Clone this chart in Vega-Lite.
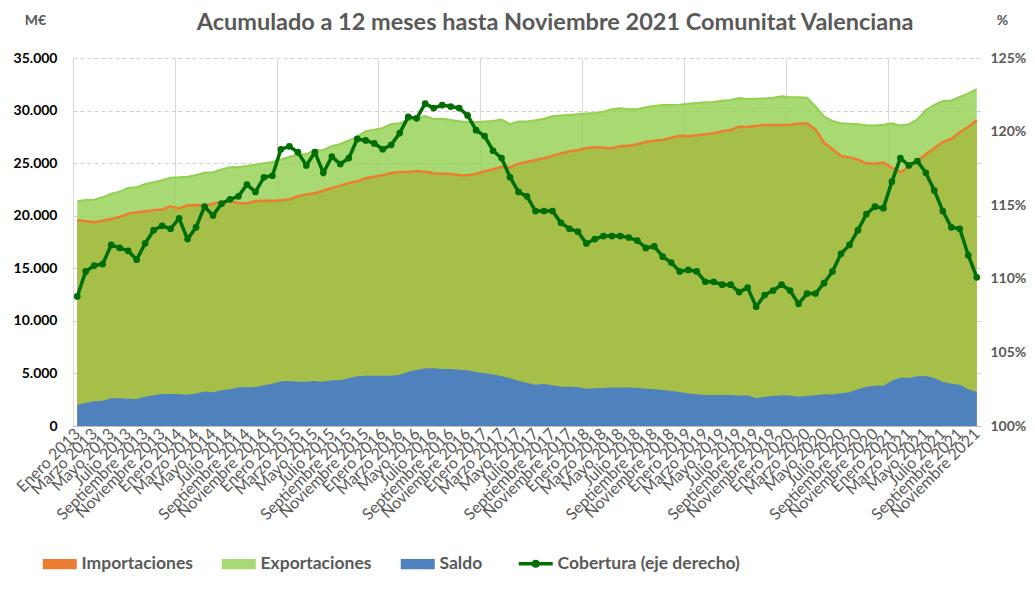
{
  "$schema": "https://vega.github.io/schema/vega-lite/v6.json",
  "width": 908,
  "height": 368,
  "autosize": {"type": "none"},
  "padding": {"left": 73, "top": 58, "right": 54, "bottom": 169},
  "background": "white",
  "config": {"font": "Lato", "view": {"stroke": null}},
  "title": {"text": "Acumulado a 12 meses hasta Noviembre 2021 Comunitat Valenciana", "fontSize": 23.5, "fontWeight": "bold", "color": "#595959", "anchor": "middle", "dx": 28, "offset": -21},
  "data": {"values": [
    {"i":0,"mes":"Enero 2013","exp":21370,"imp":19560,"saldo":2030,"cob":108.8},
    {"i":1,"mes":"Febrero 2013","exp":21500,"imp":19470,"saldo":2190,"cob":110.5},
    {"i":2,"mes":"Marzo 2013","exp":21530,"imp":19370,"saldo":2350,"cob":110.9},
    {"i":3,"mes":"Abril 2013","exp":21750,"imp":19530,"saldo":2410,"cob":111.0},
    {"i":4,"mes":"Mayo 2013","exp":22100,"imp":19690,"saldo":2630,"cob":112.3},
    {"i":5,"mes":"Junio 2013","exp":22290,"imp":19880,"saldo":2630,"cob":112.1},
    {"i":6,"mes":"Julio 2013","exp":22640,"imp":20200,"saldo":2600,"cob":111.9},
    {"i":7,"mes":"Agosto 2013","exp":22700,"imp":20320,"saldo":2570,"cob":111.3},
    {"i":8,"mes":"Septiembre 2013","exp":23020,"imp":20420,"saldo":2790,"cob":112.4},
    {"i":9,"mes":"Octubre 2013","exp":23180,"imp":20510,"saldo":2920,"cob":113.3},
    {"i":10,"mes":"Noviembre 2013","exp":23370,"imp":20580,"saldo":3040,"cob":113.6},
    {"i":11,"mes":"Diciembre 2013","exp":23620,"imp":20890,"saldo":3040,"cob":113.4},
    {"i":12,"mes":"Enero 2014","exp":23650,"imp":20700,"saldo":3040,"cob":114.1},
    {"i":13,"mes":"Febrero 2014","exp":23710,"imp":20990,"saldo":2980,"cob":112.7},
    {"i":14,"mes":"Marzo 2014","exp":23870,"imp":21020,"saldo":3080,"cob":113.5},
    {"i":15,"mes":"Abril 2014","exp":24090,"imp":20960,"saldo":3270,"cob":114.9},
    {"i":16,"mes":"Mayo 2014","exp":24130,"imp":21150,"saldo":3200,"cob":114.3},
    {"i":17,"mes":"Junio 2014","exp":24410,"imp":21340,"saldo":3390,"cob":115.1},
    {"i":18,"mes":"Julio 2014","exp":24600,"imp":21400,"saldo":3500,"cob":115.4},
    {"i":19,"mes":"Agosto 2014","exp":24600,"imp":21210,"saldo":3680,"cob":115.6},
    {"i":20,"mes":"Septiembre 2014","exp":24730,"imp":21180,"saldo":3680,"cob":116.4},
    {"i":21,"mes":"Octubre 2014","exp":24860,"imp":21370,"saldo":3710,"cob":115.9},
    {"i":22,"mes":"Noviembre 2014","exp":24980,"imp":21430,"saldo":3870,"cob":116.9},
    {"i":23,"mes":"Diciembre 2014","exp":25110,"imp":21430,"saldo":4030,"cob":117.0},
    {"i":24,"mes":"Enero 2015","exp":25350,"imp":21460,"saldo":4250,"cob":118.8},
    {"i":25,"mes":"Febrero 2015","exp":25600,"imp":21550,"saldo":4280,"cob":119.0},
    {"i":26,"mes":"Marzo 2015","exp":25800,"imp":21850,"saldo":4220,"cob":118.6},
    {"i":27,"mes":"Abril 2015","exp":25870,"imp":22030,"saldo":4220,"cob":117.7},
    {"i":28,"mes":"Mayo 2015","exp":26200,"imp":22130,"saldo":4280,"cob":118.6},
    {"i":29,"mes":"Junio 2015","exp":26250,"imp":22380,"saldo":4220,"cob":117.2},
    {"i":30,"mes":"Julio 2015","exp":26600,"imp":22650,"saldo":4340,"cob":118.3},
    {"i":31,"mes":"Agosto 2015","exp":26820,"imp":22860,"saldo":4340,"cob":117.8},
    {"i":32,"mes":"Septiembre 2015","exp":27150,"imp":23100,"saldo":4530,"cob":118.2},
    {"i":33,"mes":"Octubre 2015","exp":27520,"imp":23270,"saldo":4720,"cob":119.5},
    {"i":34,"mes":"Noviembre 2015","exp":28030,"imp":23560,"saldo":4790,"cob":119.4},
    {"i":35,"mes":"Diciembre 2015","exp":28180,"imp":23710,"saldo":4790,"cob":119.2},
    {"i":36,"mes":"Enero 2016","exp":28340,"imp":23860,"saldo":4790,"cob":118.8},
    {"i":37,"mes":"Febrero 2016","exp":28720,"imp":24060,"saldo":4790,"cob":119.1},
    {"i":38,"mes":"Marzo 2016","exp":28790,"imp":24160,"saldo":4880,"cob":119.9},
    {"i":39,"mes":"Abril 2016","exp":29050,"imp":24150,"saldo":5170,"cob":121.0},
    {"i":40,"mes":"Mayo 2016","exp":29300,"imp":24250,"saldo":5330,"cob":120.9},
    {"i":41,"mes":"Junio 2016","exp":29480,"imp":24190,"saldo":5490,"cob":121.9},
    {"i":42,"mes":"Julio 2016","exp":29200,"imp":24030,"saldo":5490,"cob":121.6},
    {"i":43,"mes":"Agosto 2016","exp":29230,"imp":24000,"saldo":5420,"cob":121.8},
    {"i":44,"mes":"Septiembre 2016","exp":29100,"imp":23970,"saldo":5420,"cob":121.7},
    {"i":45,"mes":"Octubre 2016","exp":28980,"imp":23870,"saldo":5360,"cob":121.6},
    {"i":46,"mes":"Noviembre 2016","exp":28910,"imp":23840,"saldo":5300,"cob":121.1},
    {"i":47,"mes":"Diciembre 2016","exp":28910,"imp":23970,"saldo":5140,"cob":120.1},
    {"i":48,"mes":"Enero 2017","exp":28950,"imp":24240,"saldo":5010,"cob":119.7},
    {"i":49,"mes":"Febrero 2017","exp":29010,"imp":24410,"saldo":4910,"cob":118.7},
    {"i":50,"mes":"Marzo 2017","exp":29150,"imp":24650,"saldo":4760,"cob":118.2},
    {"i":51,"mes":"Abril 2017","exp":28700,"imp":24600,"saldo":4530,"cob":116.9},
    {"i":52,"mes":"Mayo 2017","exp":28950,"imp":24950,"saldo":4310,"cob":115.9},
    {"i":53,"mes":"Junio 2017","exp":28950,"imp":25120,"saldo":4100,"cob":115.6},
    {"i":54,"mes":"Julio 2017","exp":29070,"imp":25300,"saldo":3930,"cob":114.6},
    {"i":55,"mes":"Agosto 2017","exp":29230,"imp":25460,"saldo":3990,"cob":114.6},
    {"i":56,"mes":"Septiembre 2017","exp":29450,"imp":25680,"saldo":3870,"cob":114.6},
    {"i":57,"mes":"Octubre 2017","exp":29520,"imp":25930,"saldo":3740,"cob":113.8},
    {"i":58,"mes":"Noviembre 2017","exp":29580,"imp":26120,"saldo":3740,"cob":113.4},
    {"i":59,"mes":"Diciembre 2017","exp":29640,"imp":26220,"saldo":3710,"cob":113.2},
    {"i":60,"mes":"Enero 2018","exp":29710,"imp":26440,"saldo":3550,"cob":112.4},
    {"i":61,"mes":"Febrero 2018","exp":29770,"imp":26500,"saldo":3580,"cob":112.7},
    {"i":62,"mes":"Marzo 2018","exp":29900,"imp":26470,"saldo":3610,"cob":112.9},
    {"i":63,"mes":"Abril 2018","exp":30120,"imp":26410,"saldo":3650,"cob":112.9},
    {"i":64,"mes":"Mayo 2018","exp":30210,"imp":26600,"saldo":3650,"cob":112.9},
    {"i":65,"mes":"Junio 2018","exp":30120,"imp":26660,"saldo":3650,"cob":112.8},
    {"i":66,"mes":"Julio 2018","exp":30120,"imp":26790,"saldo":3610,"cob":112.6},
    {"i":67,"mes":"Agosto 2018","exp":30310,"imp":27010,"saldo":3550,"cob":112.1},
    {"i":68,"mes":"Septiembre 2018","exp":30430,"imp":27140,"saldo":3490,"cob":112.2},
    {"i":69,"mes":"Octubre 2018","exp":30530,"imp":27200,"saldo":3420,"cob":111.5},
    {"i":70,"mes":"Noviembre 2018","exp":30530,"imp":27420,"saldo":3330,"cob":111.1},
    {"i":71,"mes":"Diciembre 2018","exp":30550,"imp":27600,"saldo":3230,"cob":110.5},
    {"i":72,"mes":"Enero 2019","exp":30660,"imp":27550,"saldo":3080,"cob":110.6},
    {"i":73,"mes":"Febrero 2019","exp":30720,"imp":27650,"saldo":3010,"cob":110.5},
    {"i":74,"mes":"Marzo 2019","exp":30780,"imp":27740,"saldo":2950,"cob":109.8},
    {"i":75,"mes":"Abril 2019","exp":30820,"imp":27840,"saldo":2950,"cob":109.8},
    {"i":76,"mes":"Mayo 2019","exp":30940,"imp":28030,"saldo":2950,"cob":109.6},
    {"i":77,"mes":"Junio 2019","exp":31010,"imp":28150,"saldo":2950,"cob":109.6},
    {"i":78,"mes":"Julio 2019","exp":31200,"imp":28470,"saldo":2890,"cob":109.1},
    {"i":79,"mes":"Agosto 2019","exp":31100,"imp":28440,"saldo":2890,"cob":109.4},
    {"i":80,"mes":"Septiembre 2019","exp":31130,"imp":28530,"saldo":2630,"cob":108.1},
    {"i":81,"mes":"Octubre 2019","exp":31160,"imp":28630,"saldo":2790,"cob":108.9},
    {"i":82,"mes":"Noviembre 2019","exp":31230,"imp":28630,"saldo":2850,"cob":109.2},
    {"i":83,"mes":"Diciembre 2019","exp":31360,"imp":28630,"saldo":2920,"cob":109.6},
    {"i":84,"mes":"Enero 2020","exp":31260,"imp":28630,"saldo":2890,"cob":109.2},
    {"i":85,"mes":"Febrero 2020","exp":31260,"imp":28760,"saldo":2790,"cob":108.3},
    {"i":86,"mes":"Marzo 2020","exp":31230,"imp":28760,"saldo":2850,"cob":109.0},
    {"i":87,"mes":"Abril 2020","exp":30400,"imp":28220,"saldo":2920,"cob":109.0},
    {"i":88,"mes":"Mayo 2020","exp":29450,"imp":26950,"saldo":3010,"cob":109.7},
    {"i":89,"mes":"Junio 2020","exp":29000,"imp":26330,"saldo":3000,"cob":110.5},
    {"i":90,"mes":"Julio 2020","exp":28790,"imp":25680,"saldo":3110,"cob":111.7},
    {"i":91,"mes":"Agosto 2020","exp":28750,"imp":25550,"saldo":3200,"cob":112.3},
    {"i":92,"mes":"Septiembre 2020","exp":28690,"imp":25330,"saldo":3490,"cob":113.3},
    {"i":93,"mes":"Octubre 2020","exp":28600,"imp":24980,"saldo":3740,"cob":114.4},
    {"i":94,"mes":"Noviembre 2020","exp":28570,"imp":24950,"saldo":3840,"cob":114.9},
    {"i":95,"mes":"Diciembre 2020","exp":28660,"imp":25050,"saldo":3840,"cob":114.8},
    {"i":96,"mes":"Enero 2021","exp":28790,"imp":24570,"saldo":4310,"cob":116.6},
    {"i":97,"mes":"Febrero 2021","exp":28570,"imp":24160,"saldo":4600,"cob":118.2},
    {"i":98,"mes":"Marzo 2021","exp":28690,"imp":24630,"saldo":4570,"cob":117.7},
    {"i":99,"mes":"Abril 2021","exp":29170,"imp":25200,"saldo":4720,"cob":118.0},
    {"i":100,"mes":"Mayo 2021","exp":30060,"imp":25840,"saldo":4760,"cob":117.2},
    {"i":101,"mes":"Junio 2021","exp":30530,"imp":26410,"saldo":4570,"cob":116.0},
    {"i":102,"mes":"Julio 2021","exp":30910,"imp":27010,"saldo":4190,"cob":114.6},
    {"i":103,"mes":"Agosto 2021","exp":30970,"imp":27300,"saldo":4030,"cob":113.5},
    {"i":104,"mes":"Septiembre 2021","exp":31290,"imp":27930,"saldo":3930,"cob":113.4},
    {"i":105,"mes":"Octubre 2021","exp":31640,"imp":28440,"saldo":3490,"cob":111.6},
    {"i":106,"mes":"Noviembre 2021","exp":32050,"imp":29100,"saldo":3230,"cob":110.1}
  ]},
  "encoding": {
    "x": {
      "field": "i", "type": "quantitative",
      "scale": {"domain": [-0.5, 106.5], "nice": false, "zero": false},
      "axis": {
        "title": null,
        "values": [-0.5,0,2,4,6,8,10,11.5,12,14,16,18,20,22,23.5,24,26,28,30,32,34,35.5,36,38,40,42,44,46,47.5,48,50,52,54,56,58,59.5,60,62,64,66,68,70,71.5,72,74,76,78,80,82,83.5,84,86,88,90,92,94,95.5,96,98,100,102,104,106],
        "labelExpr": "datum.value % 1 !== 0 ? '' : ['Enero','Febrero','Marzo','Abril','Mayo','Junio','Julio','Agosto','Septiembre','Octubre','Noviembre','Diciembre'][datum.value % 12] + ' ' + (2013 + floor(datum.value / 12))",
        "labelAngle": -45, "labelAlign": "right", "labelBaseline": "middle",
        "labelFontSize": 16, "labelColor": "#595959", "labelPadding": 5,
        "labelOverlap": false, "labelFlush": false, "labelBound": false,
        "ticks": false, "domain": true, "domainColor": "#bfbfbf",
        "grid": true, "gridColor": "#d9d9d9",
        "gridOpacity": {"condition": {"test": "datum.value % 1 !== 0", "value": 1}, "value": 0}
      }
    }
  },
  "layer": [
    {
      "layer": [
        {
          "mark": {"type": "area"},
          "encoding": {
            "y": {"field": "imp", "type": "quantitative", "title": "M€",
              "scale": {"domain": [0, 35000], "nice": false},
              "axis": {"title": "M€", "titleAngle": 0, "titleX": -38, "titleY": -38, "titleAlign": "center", "titleBaseline": "middle", "titleFontSize": 14, "titleColor": "#595959", "titleFontWeight": "bold", "values": [0,5000,10000,15000,20000,25000,30000,35000], "labelExpr": "replace(format(datum.value, ','), ',', '.')", "labelFontSize": 14, "labelFontWeight": "bold", "labelColor": "#000000", "labelPadding": 16, "ticks": false, "domain": false, "grid": true, "gridDash": [4, 3], "gridColor": "#d0d0d0"}},
            "color": {"datum": "Importaciones",
              "scale": {"domain": ["Importaciones", "Exportaciones", "Saldo", "Cobertura (eje derecho)"], "range": ["#ed7d31", "#92d050", "#4f81bd", "#006e00"]},
              "legend": {
                "title": null, "orient": "none", "legendX": -22, "legendY": 497, "direction": "horizontal", "columns": 4,
                "labelFontSize": 17.5, "labelFontWeight": "bold", "labelColor": "#595959", "labelOffset": 13, "labelLimit": 400, "columnPadding": 28,
                "symbolSize": 1156,
                "encoding": {"symbols": {
                  "shape": {"value": {"expr": "datum.value === 'Cobertura (eje derecho)' ? 'M-1,0H1M0.13,0A0.13,0.13,0,1,1,-0.13,0A0.13,0.13,0,1,1,0.13,0' : 'M-1,-0.3H1V0.3H-1Z'"}},
                  "fill": {"value": {"expr": "scale('color', datum.value)"}},
                  "stroke": {"value": {"expr": "scale('color', datum.value)"}},
                  "strokeWidth": {"value": {"expr": "datum.value === 'Cobertura (eje derecho)' ? 3.5 : 0"}},
                  "fillOpacity": {"value": {"expr": "datum.value === 'Exportaciones' ? 0.8 : 1"}},
                  "opacity": {"value": 1}
                }}
              }}
          }
        },
        {
          "mark": {"type": "area", "fillOpacity": 0.8},
          "encoding": {
            "y": {"field": "exp", "type": "quantitative", "title": "M€",
              "axis": {"title": "M€", "titleAngle": 0, "titleX": -38, "titleY": -38, "titleAlign": "center", "titleBaseline": "middle", "titleFontSize": 14, "titleColor": "#595959", "titleFontWeight": "bold", "values": [0,5000,10000,15000,20000,25000,30000,35000], "labelExpr": "replace(format(datum.value, ','), ',', '.')", "labelFontSize": 14, "labelFontWeight": "bold", "labelColor": "#000000", "labelPadding": 16, "ticks": false, "domain": false, "grid": true, "gridDash": [4, 3], "gridColor": "#d0d0d0"}},
            "color": {"datum": "Exportaciones"}
          }
        },
        {
          "mark": {"type": "line", "color": "#92d050", "strokeWidth": 2},
          "encoding": {"y": {"field": "exp", "type": "quantitative", "title": "M€",
              "axis": {"title": "M€", "titleAngle": 0, "titleX": -38, "titleY": -38, "titleAlign": "center", "titleBaseline": "middle", "titleFontSize": 14, "titleColor": "#595959", "titleFontWeight": "bold", "values": [0,5000,10000,15000,20000,25000,30000,35000], "labelExpr": "replace(format(datum.value, ','), ',', '.')", "labelFontSize": 14, "labelFontWeight": "bold", "labelColor": "#000000", "labelPadding": 16, "ticks": false, "domain": false, "grid": true, "gridDash": [4, 3], "gridColor": "#d0d0d0"}}}
        },
        {
          "mark": {"type": "line", "color": "#ed7d31", "strokeWidth": 2.5},
          "encoding": {"y": {"field": "imp", "type": "quantitative", "title": "M€",
              "axis": {"title": "M€", "titleAngle": 0, "titleX": -38, "titleY": -38, "titleAlign": "center", "titleBaseline": "middle", "titleFontSize": 14, "titleColor": "#595959", "titleFontWeight": "bold", "values": [0,5000,10000,15000,20000,25000,30000,35000], "labelExpr": "replace(format(datum.value, ','), ',', '.')", "labelFontSize": 14, "labelFontWeight": "bold", "labelColor": "#000000", "labelPadding": 16, "ticks": false, "domain": false, "grid": true, "gridDash": [4, 3], "gridColor": "#d0d0d0"}}}
        },
        {
          "mark": {"type": "area"},
          "encoding": {
            "y": {"field": "saldo", "type": "quantitative", "title": "M€",
              "axis": {"title": "M€", "titleAngle": 0, "titleX": -38, "titleY": -38, "titleAlign": "center", "titleBaseline": "middle", "titleFontSize": 14, "titleColor": "#595959", "titleFontWeight": "bold", "values": [0,5000,10000,15000,20000,25000,30000,35000], "labelExpr": "replace(format(datum.value, ','), ',', '.')", "labelFontSize": 14, "labelFontWeight": "bold", "labelColor": "#000000", "labelPadding": 16, "ticks": false, "domain": false, "grid": true, "gridDash": [4, 3], "gridColor": "#d0d0d0"}},
            "color": {"datum": "Saldo"}
          }
        }
      ]
    },
    {
      "mark": {"type": "line", "strokeWidth": 3.5, "point": {"filled": true, "size": 45}},
      "encoding": {
        "y": {"field": "cob", "type": "quantitative",
          "scale": {"domain": [100, 125], "nice": false, "zero": false},
          "axis": {
            "orient": "right",
            "title": "%", "titleAngle": 0, "titleX": 21, "titleY": -38, "titleAlign": "center", "titleBaseline": "middle",
            "titleFontSize": 14, "titleColor": "#595959", "titleFontWeight": "bold",
            "values": [100, 105, 110, 115, 120, 125],
            "labelExpr": "datum.value + '%'",
            "labelFontSize": 14, "labelFontWeight": "bold", "labelColor": "#595959", "labelPadding": 9,
            "ticks": false, "domain": false, "grid": false
          }},
        "color": {"datum": "Cobertura (eje derecho)"}
      }
    }
  ],
  "resolve": {"scale": {"y": "independent"}}
}
